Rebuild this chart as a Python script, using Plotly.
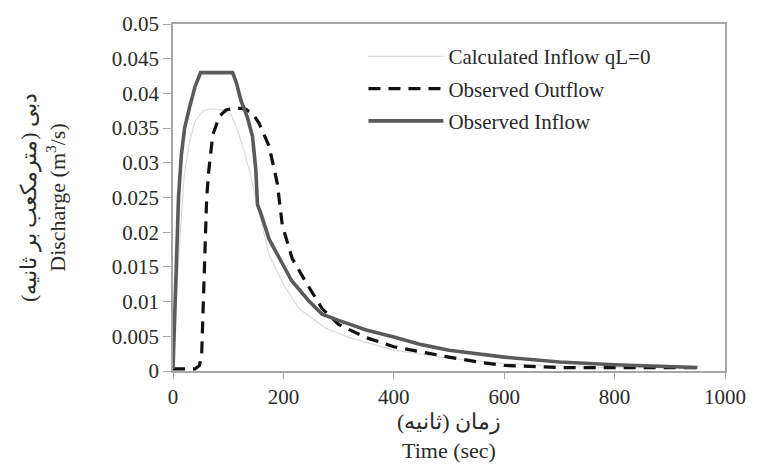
import plotly.graph_objects as go

# ---- data ----
t_calc = [0, 5, 10, 20, 30, 40, 55, 70, 90, 105, 120, 138, 155, 174, 200, 228, 276, 320, 400, 500, 600, 700, 800, 950]
q_calc = [0, 0.008, 0.016, 0.028, 0.033, 0.036, 0.0375, 0.0378, 0.0376, 0.037, 0.034, 0.029, 0.023, 0.0167,
          0.0125, 0.009, 0.0062, 0.0048, 0.003, 0.0018, 0.0011, 0.0007, 0.0005, 0.0004]

t_out = [0, 40, 48, 52, 55, 58, 61, 65, 72, 84, 96, 110, 130, 145, 156, 174, 189, 198, 216, 240, 270, 300,
         350, 400, 450, 500, 560, 600, 700, 800, 950]
q_out = [0.0003, 0.0003, 0.0008, 0.0025, 0.01, 0.019, 0.025, 0.029, 0.034, 0.0367, 0.0376, 0.0379, 0.0378,
         0.037, 0.0357, 0.0324, 0.027, 0.021, 0.0162, 0.0129, 0.009, 0.0067, 0.0048, 0.0035, 0.0027, 0.002,
         0.0012, 0.0008, 0.0005, 0.0005, 0.0005]

t_in = [0, 2, 5, 10, 15, 21, 30, 40, 50, 108, 115, 123, 135, 144, 150, 153, 160, 174, 200, 215, 245, 270,
        300, 350, 400, 450, 500, 600, 700, 800, 950]
q_in = [0.0003, 0.005, 0.014, 0.025, 0.031, 0.035, 0.038, 0.041, 0.043, 0.043, 0.0415, 0.039, 0.0365, 0.0338,
        0.029, 0.024, 0.0225, 0.019, 0.0152, 0.013, 0.0102, 0.0082, 0.0073, 0.0059, 0.0049, 0.0038, 0.003,
        0.002, 0.0013, 0.0009, 0.0005]

names = ["Calculated Inflow qL=0", "Observed Outflow", "Observed Inflow"]

x_ticks = [0, 200, 400, 600, 800, 1000]
x_ticktext = ["0", "200", "400", "600", "800", "1000"]
y_ticks = [0, 0.005, 0.01, 0.015, 0.02, 0.025, 0.03, 0.035, 0.04, 0.045, 0.05]
y_ticktext = ["0", "0.005", "0.01", "0.015", "0.02", "0.025", "0.03", "0.035", "0.04", "0.045", "0.05"]

x_title = "\u202bزمان (ثانیه)\u202c<br>Time (sec)"
y_title = "\u202bدبی (مترمکعب بر ثانیه)\u202c<br>Discharge (m<sup>3</sup>/s)"

SERIF = "Liberation Serif"
TXT = "#2a2a2a"
AXIS_COLOR = "#a6a6a6"

fig = go.Figure()
fig.add_trace(go.Scatter(x=t_calc, y=q_calc, mode="lines", name=names[0], legendgroup="a",
                         line=dict(color="#dadada", width=1.2)))
fig.add_trace(go.Scatter(x=t_out, y=q_out, mode="lines", name=names[1], legendgroup="b",
                         line=dict(color="#111111", width=3.2, dash="12px,8px")))
fig.add_trace(go.Scatter(x=t_in, y=q_in, mode="lines", name=names[2], legendgroup="c",
                         line=dict(color="#5a5a5a", width=3.6)))

fig.update_layout(
    width=758, height=472,
    margin=dict(l=173, r=27, t=20, b=101),
    paper_bgcolor="white", plot_bgcolor="white",
    font=dict(family=SERIF, size=21, color=TXT),
    showlegend=True,
    legend=dict(x=0.345, y=0.965, xanchor="left", yanchor="top", bgcolor="rgba(0,0,0,0)",
                font=dict(family=SERIF, size=21, color=TXT),
                itemwidth=75, tracegroupgap=2, traceorder="grouped"),
    xaxis=dict(range=[0, 1000], tickvals=x_ticks, ticktext=x_ticktext, showgrid=False, zeroline=False,
               showline=True, linecolor=AXIS_COLOR, linewidth=1.5, mirror=True,
               ticks="outside", ticklen=6, tickcolor=AXIS_COLOR,
               tickfont=dict(family=SERIF, size=21, color=TXT),
               title=dict(text=x_title, font=dict(family=SERIF, size=22, color=TXT), standoff=2)),
    yaxis=dict(range=[0, 0.05], tickvals=y_ticks, ticktext=y_ticktext, showgrid=False, zeroline=False,
               showline=True, linecolor=AXIS_COLOR, linewidth=1.5, mirror=True,
               ticks="outside", ticklen=8, tickcolor=AXIS_COLOR,
               tickfont=dict(family=SERIF, size=21, color=TXT),
               title=dict(text=y_title, font=dict(family=SERIF, size=22, color=TXT), standoff=40)),
)

fig.write_html("out.html")
